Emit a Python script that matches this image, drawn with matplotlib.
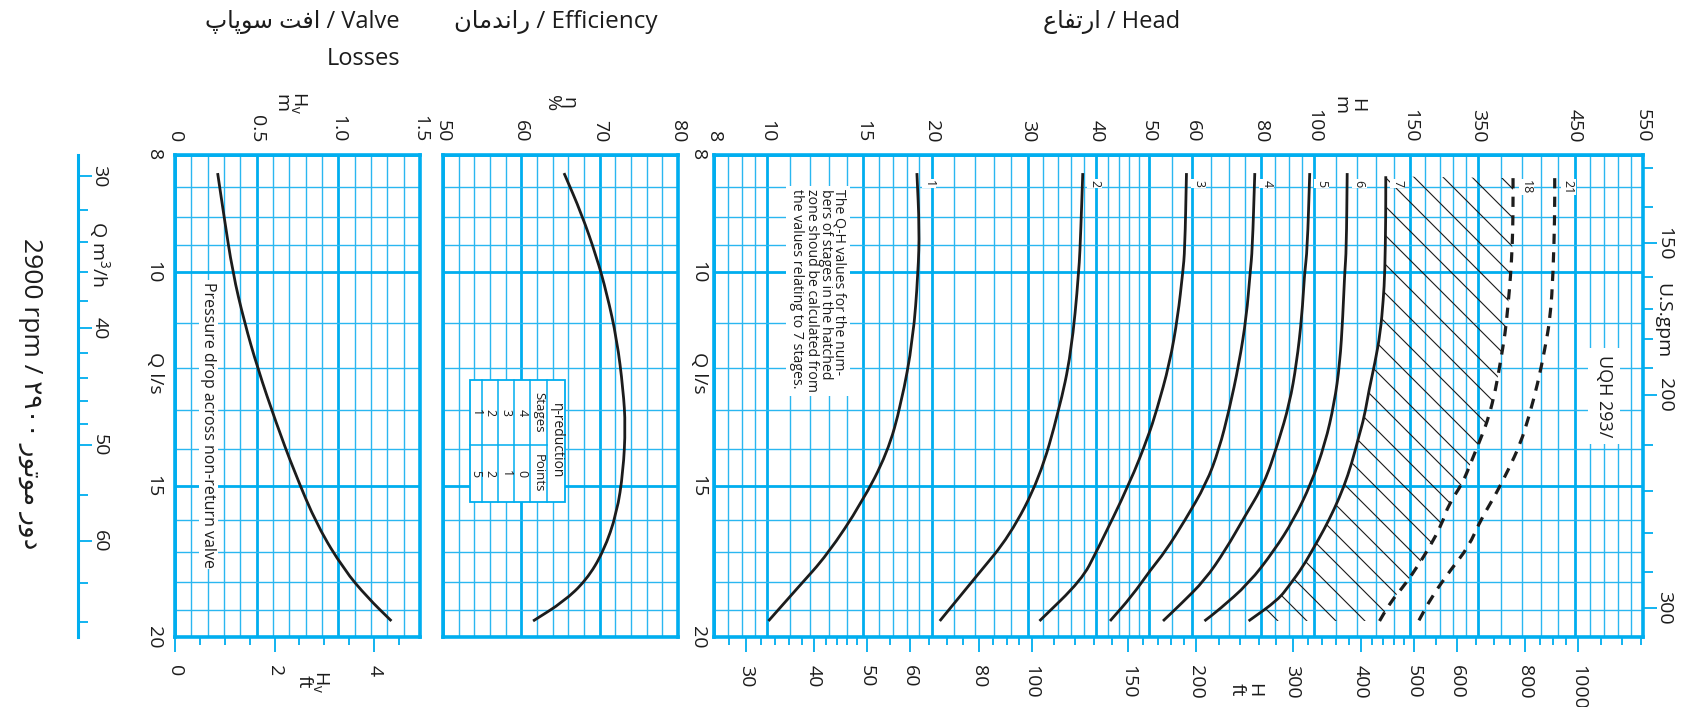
import matplotlib
matplotlib.use("Agg")
import matplotlib.pyplot as plt
import numpy as np
from matplotlib.lines import Line2D
from matplotlib.patches import PathPatch, Polygon, Rectangle
from matplotlib.path import Path
from matplotlib.ticker import FixedLocator, NullFormatter

plt.rcParams["font.family"] = ["Open Sans", "DejaVu Sans"]
plt.rcParams["mathtext.default"] = "regular"

FIG_W, FIG_H = 1684, 707
PANEL_TOP, PANEL_BOTTOM = 155, 637
BLUE = "#00aeef"
BLUE_THIN = "#2ab7f0"
INK = "#1c1c1c"
TICK_SIZE = 14

M_PER_FT = 0.3048
M3H_PER_LPS = 3.6
GPM_PER_LPS = 15.85

# Arabic/Persian words in visual order (presentation forms)
AR_HEAD = "\ufec9\ufe8e\ufed4\ufe97\ufead\ufe8d"
AR_EFF = "\ufee5\ufe8e\ufee3\ufeaa\ufee7\ufe8d\ufead"
AR_VALVE = "\ufb56\ufe8e\ufb58\ufeee\ufeb3 \ufe96\ufed3\ufe8d"
AR_RPM = "\u06f2\u06f9\u06f0\u06f0 \ufead\ufeee\ufe97\ufeee\ufee3 \ufead\ufeed\ufea9"

# flow axis, l/s
Q_TICKS = [8, 10, 15, 20]
Q_MINOR = [8.5, 9, 9.5, 11, 12, 13, 14, 16, 17, 18, 19]

# head axis, m (top labels as printed on the chart)
HEAD_TICKS = [8, 10, 15, 20, 30, 40, 50, 60, 80, 100, 150, 200, 300, 400]
HEAD_LABELS = ["8", "10", "15", "20", "30", "40", "50", "60", "80", "100", "150",
               "350", "450", "550"]
HEAD_MINOR = ([8.5, 9, 9.5] + list(range(11, 20)) + list(range(22, 50, 2))
              + list(range(55, 100, 5)) + list(range(110, 200, 10))
              + list(range(220, 400, 20)))
HEAD_MINOR = [v for v in HEAD_MINOR if v not in HEAD_TICKS]
HEAD_FT_TICKS = [30, 40, 50, 60, 80, 100, 150, 200, 300, 400, 500, 600, 800, 1000]
HEAD_FT_MINOR = ([28, 32, 34, 36, 38, 42, 44, 46, 48, 55, 65, 70, 75, 85, 90, 95]
                 + [110, 120, 130, 140, 160, 170, 180, 190]
                 + [220, 240, 260, 280, 320, 340, 360, 380, 420, 440, 460, 480]
                 + [550, 650, 700, 750, 850, 900, 950, 1100, 1200, 1300])

EFF_TICKS = [50, 60, 70, 80]
EFF_MINOR = [52, 54, 56, 58, 62, 64, 66, 68, 72, 74, 76, 78]

HV_TICKS = [0, 0.5, 1.0, 1.5]
HV_LABELS = ["0", "0.5", "1.0", "1.5"]
HV_MINOR = [0.1, 0.2, 0.3, 0.4, 0.6, 0.7, 0.8, 0.9, 1.1, 1.2, 1.3, 1.4]
HV_FT_TICKS = [0, 2, 4]
HV_FT_MINOR = [0.5, 1, 1.5, 2.5, 3, 3.5, 4.5]

M3H_TICKS = [30, 40, 50, 60]
M3H_MINOR = [32, 34, 36, 38, 42, 44, 46, 48, 55, 65, 70]
GPM_TICKS = [150, 200, 300]
GPM_MINOR = [130, 140, 160, 170, 180, 190, 220, 240, 260, 280]

# Q-H curves (Q in l/s, H in m)
q1 = [8.28, 9.2, 10.0, 11.36, 12.84, 14.1, 15.5, 17.1, 18.2, 19.4]
h1 = [18.8, 19.0, 18.9, 18.5, 17.6, 16.6, 14.9, 12.9, 11.4, 10.06]
q2 = [8.28, 9.2, 10.0, 11.67, 13.0, 14.8, 16.5, 17.8, 19.4]
h2 = [37.8, 37.5, 37.2, 36.0, 34.2, 31.5, 27.8, 24.2, 20.7]
q3 = [8.28, 9.58, 10.0, 10.88, 11.89, 13.0, 13.66, 14.92, 16.99, 17.95, 19.4]
h3 = [58.5, 58.1, 57.6, 56.4, 54.5, 51.6, 49.8, 46.1, 40.1, 37.6, 31.5]
q4 = [8.28, 9.58, 10.0, 10.88, 11.89, 13.0, 14.0, 14.94, 16.05, 17.0, 17.6, 18.5, 19.4]
h4 = [78.0, 77.2, 76.5, 75.3, 73.0, 70.0, 67.1, 63.6, 58.0, 53.5, 50.3, 46.5, 42.4]
q5 = [8.28, 9.58, 10.0, 10.88, 11.89, 12.83, 13.84, 14.94, 15.9, 16.96, 17.95, 18.76, 19.4]
h5 = [98.3, 97.3, 96.2, 95.1, 93.0, 90.3, 86.0, 81.2, 74.8, 68.9, 63.2, 57.3, 53.0]
q6 = [8.28, 9.58, 10.0, 10.88, 11.89, 12.83, 13.84, 14.94, 16.0, 16.96, 18.07, 19.0, 19.4]
h6 = [115.1, 114.7, 113.9, 113.0, 111.6, 109.0, 104.9, 98.9, 91.9, 84.7, 76.0, 67.0, 63.1]
q7 = [8.33, 8.99, 10.0, 10.54, 11.23, 11.89, 12.5, 13.16, 13.66, 14.38, 15.03, 15.67,
      16.32, 16.9, 17.5, 18.12, 18.64, 19.4]
h7 = [135.4, 135.4, 134.9, 134.0, 132.3, 129.3, 126.2, 123.7, 120.9, 117.3, 113.5, 109.1,
      104.3, 99.8, 95.5, 90.3, 86.0, 76.0]
q18 = [8.36, 8.97, 9.49, 10.08, 10.64, 11.23, 11.89, 12.5, 13.16, 13.66, 14.29, 14.94,
       15.53, 16.17, 16.85, 17.45, 18.07, 18.7, 19.4]
h18 = [231.4, 231.4, 230.7, 229.0, 226.6, 223.9, 219.2, 215.0, 209.0, 202.7, 194.6, 187.0,
       176.6, 171.1, 162.9, 155.2, 147.3, 138.3, 131.9]
q21 = [8.36, 8.99, 10.0, 10.88, 11.59, 12.35, 13.16, 13.84, 14.56, 15.32, 16.0, 16.85,
       17.6, 18.53, 19.4]
h21 = [275.8, 275.8, 274.0, 270.9, 264.4, 256.8, 247.4, 238.8, 226.8, 214.0, 202.0, 191.9,
       178.0, 164.3, 155.5]

# efficiency curve (%)
q_eff = [8.28, 8.95, 9.71, 10.4, 11.36, 12.5, 13.4, 14.6, 15.8, 17.0, 17.95, 18.7, 19.4]
eta = [65.45, 67.7, 69.6, 70.9, 72.2, 73.0, 73.3, 73.0, 72.2, 70.5, 68.3, 65.4, 61.5]

# pressure drop across non-return valve (m)
q_valve = [8.28, 8.95, 10.0, 10.98, 12.0, 13.3, 14.6, 16.2, 17.6, 18.55, 19.4]
hv = [0.261, 0.298, 0.353, 0.424, 0.506, 0.618, 0.730, 0.872, 1.035, 1.178, 1.325]

# efficiency reduction table
TABLE_STAGES = [4, 3, 2, 1]
TABLE_POINTS = [0, 1, 2, 5]


def panel_rect(x0, x1):
    return [x0 / FIG_W, 1 - PANEL_BOTTOM / FIG_H, (x1 - x0) / FIG_W,
            (PANEL_BOTTOM - PANEL_TOP) / FIG_H]


def fxy(x, y):
    return x / FIG_W, 1 - y / FIG_H


def smooth_curve(ax, xs, qs, xlog, **kw):
    # quadratic bezier through segment midpoints, midpoints taken in axis space
    u = np.log10(xs) if xlog else np.asarray(xs, float)
    v = np.log10(qs)
    mu, mv = (u[:-1] + u[1:]) / 2, (v[:-1] + v[1:]) / 2
    back_x = (lambda a: 10 ** a) if xlog else (lambda a: a)
    verts = [(xs[0], qs[0]), (back_x(mu[0]), 10 ** mv[0])]
    codes = [Path.MOVETO, Path.LINETO]
    for i in range(1, len(xs) - 1):
        verts += [(xs[i], qs[i]), (back_x(mu[i]), 10 ** mv[i])]
        codes += [Path.CURVE3, Path.CURVE3]
    verts.append((xs[-1], qs[-1]))
    codes.append(Path.LINETO)
    patch = PathPatch(Path(verts, codes), fill=False, **kw)
    ax.add_patch(patch)
    return patch


def setup_panel(ax, xscale, xlim, xticks, xlabels, xminor, show_q=True, ypad=6):
    ax.set_xscale(xscale)
    ax.set_yscale("log")
    ax.set_xlim(xlim)
    ax.set_ylim(20, 8)
    ax.set_xticks(xticks, xlabels)
    ax.xaxis.set_minor_locator(FixedLocator(xminor))
    ax.xaxis.set_minor_formatter(NullFormatter())
    ax.set_yticks(Q_TICKS, [str(v) for v in Q_TICKS])
    ax.yaxis.set_minor_locator(FixedLocator(Q_MINOR))
    ax.yaxis.set_minor_formatter(NullFormatter())
    ax.xaxis.tick_top()
    ax.tick_params(which="both", length=0)
    ax.tick_params(axis="x", labelrotation=-90, pad=9, labelsize=TICK_SIZE, labelcolor=INK)
    ax.tick_params(axis="y", labelrotation=-90, pad=ypad, labelsize=TICK_SIZE,
                   labelcolor=INK, labelleft=show_q)
    for lab in ax.get_yticklabels():
        lab.set_verticalalignment("center")
    ax.set_axisbelow(True)
    ax.grid(which="major", color=BLUE, lw=2.0)
    ax.grid(which="minor", color=BLUE_THIN, lw=1.0)
    for sp in ax.spines.values():
        sp.set_color(BLUE)
        sp.set_linewidth(2.6)


def ft_axis(ax, ticks, minor):
    sec = ax.secondary_xaxis("bottom", functions=(lambda m: m / M_PER_FT,
                                                  lambda f: f * M_PER_FT))
    sec.set_xticks(ticks, [str(v) for v in ticks])
    sec.xaxis.set_minor_locator(FixedLocator(minor))
    sec.xaxis.set_minor_formatter(NullFormatter())
    sec.tick_params(which="both", color=BLUE, direction="out", width=1.3,
                    labelrotation=-90, labelsize=TICK_SIZE, labelcolor=INK, pad=9)
    sec.tick_params(which="major", length=11)
    sec.tick_params(which="minor", length=6)
    sec.spines["bottom"].set_visible(False)
    return sec


def flow_axis(ax, location, factor, ticks, minor, align):
    sec = ax.secondary_yaxis(location, functions=(lambda q: q * factor,
                                                  lambda v: v / factor))
    if align is not None:
        sec.set_alignment(align)
    sec.set_yticks(ticks, [str(v) for v in ticks])
    sec.yaxis.set_minor_locator(FixedLocator(minor))
    sec.yaxis.set_minor_formatter(NullFormatter())
    sec.tick_params(which="both", color=BLUE, direction="out", width=1.3,
                    labelrotation=-90, labelsize=TICK_SIZE, labelcolor=INK, pad=-1)
    sec.tick_params(which="major", length=10)
    sec.tick_params(which="minor", length=7)
    for lab in sec.get_yticklabels():
        lab.set_verticalalignment("center")
    for sp in sec.spines.values():
        sp.set_color(BLUE)
        sp.set_linewidth(2.2)
    return sec


fig = plt.figure(figsize=(FIG_W / 100, FIG_H / 100), dpi=100)
fig.patch.set_facecolor("white")

ax_v = fig.add_axes(panel_rect(175, 420))
ax_e = fig.add_axes(panel_rect(443, 678))
ax_h = fig.add_axes(panel_rect(714, 1643))

setup_panel(ax_v, "linear", (0, 1.5), HV_TICKS, HV_LABELS, HV_MINOR, ypad=9)
setup_panel(ax_e, "linear", (50, 80), EFF_TICKS, [str(v) for v in EFF_TICKS], EFF_MINOR,
            show_q=False)
setup_panel(ax_h, "log", (8, 400), HEAD_TICKS, HEAD_LABELS, HEAD_MINOR, ypad=5)

ft_axis(ax_v, HV_FT_TICKS, HV_FT_MINOR)
ft_axis(ax_h, HEAD_FT_TICKS, HEAD_FT_MINOR)
flow_axis(ax_v, (78 - 175) / 245, M3H_PER_LPS, M3H_TICKS, M3H_MINOR, "right")
gpm = flow_axis(ax_h, "right", GPM_PER_LPS, GPM_TICKS, GPM_MINOR, None)
gpm.spines["right"].set_visible(False)

# --- head panel curves
solid = [(q1, h1, "1"), (q2, h2, "2"), (q3, h3, "3"), (q4, h4, "4"),
         (q5, h5, "5"), (q6, h6, "6"), (q7, h7, "7")]
for q, h, lab in solid:
    smooth_curve(ax_h, h, q, True, ec=INK, lw=2.0, zorder=3)
    ax_h.annotate(lab, xy=(h[0], 8.45), xytext=(4, 0), textcoords="offset points",
                  rotation=-90, ha="left", va="center", fontsize=9, color=INK,
                  bbox=dict(fc="white", ec="none", pad=0.6), zorder=4)
for q, h, lab in [(q18, h18, "18"), (q21, h21, "21")]:
    smooth_curve(ax_h, h, q, True, ec=INK, lw=2.3, ls=(0, (3.2, 2.6)),
                 capstyle="butt", zorder=3)
    ax_h.annotate(lab, xy=(h[0], 8.5), xytext=(5, 0), textcoords="offset points",
                  rotation=-90, ha="left", va="center", fontsize=9, color=INK,
                  bbox=dict(fc="white", ec="none", pad=0.6), zorder=4)

# hatched zone between 7 stages and 18 stages
zone = Polygon(np.column_stack([h7 + h18[::-1], q7 + q18[::-1]]), closed=True,
               transform=ax_h.transData)
bb = ax_h.get_position()
slope = (bb.width * FIG_W) / (bb.height * FIG_H)
step = 29 / (bb.height * FIG_H)
phase = 0.813 + 0.858 * slope
for c in np.arange(phase - 60 * step, slope + 1.05, step):
    if c < 0:
        continue
    ln = Line2D([0, 1], [c, c - slope], transform=ax_h.transAxes, color=INK,
                lw=0.8, zorder=2.5)
    ln.set_clip_path(zone)
    ax_h.add_line(ln)

ax_h.text(0.143, 0.929,
          "The Q-H values for the num-\nbers of stages in the hatched\n"
          "zone shoud be calculated from\nthe values relating to 7 stages.",
          transform=ax_h.transAxes, rotation=-90, rotation_mode="anchor",
          ha="left", va="top", fontsize=10.2, linespacing=0.92, color=INK,
          bbox=dict(fc="white", ec="none", pad=2.5), zorder=4)
ax_h.text(0.958, 0.5, "UQH 293/", transform=ax_h.transAxes, rotation=-90,
          ha="center", va="center", fontsize=13, color=INK,
          bbox=dict(fc="white", ec="none", pad=5), zorder=4)
ax_h.text(0.683, 1.104, "H\nm", transform=ax_h.transAxes, rotation=-90,
          ha="center", va="center", fontsize=TICK_SIZE, color=INK, linespacing=0.9)
ax_h.text(0.572, -0.11, "H\nft", transform=ax_h.transAxes, rotation=-90,
          ha="center", va="center", fontsize=TICK_SIZE, color=INK, linespacing=0.9)

# --- efficiency panel
smooth_curve(ax_e, eta, q_eff, False, ec=INK, lw=2.0, zorder=3)
ax_e.text(0.498, 1.108, "\u03b7\n%", transform=ax_e.transAxes, rotation=-90,
          ha="center", va="center", fontsize=TICK_SIZE, color=INK, linespacing=0.9)

tbl_x = [0.115, 0.167, 0.235, 0.303, 0.370, 0.444, 0.519]
tbl_top, tbl_mid, tbl_bot = 0.533, 0.398, 0.280
ax_e.add_patch(Rectangle((tbl_x[0], tbl_bot), tbl_x[-1] - tbl_x[0], tbl_top - tbl_bot,
                         transform=ax_e.transAxes, fc="white", ec=BLUE, lw=1.3,
                         zorder=4))
for x in tbl_x[1:-1]:
    ax_e.add_line(Line2D([x, x], [tbl_bot, tbl_top], transform=ax_e.transAxes,
                         color=BLUE, lw=1.1, zorder=4.5))
ax_e.add_line(Line2D([tbl_x[0], tbl_x[-2]], [tbl_mid, tbl_mid], transform=ax_e.transAxes,
                     color=BLUE, lw=1.1, zorder=4.5))
y_st = (tbl_top + tbl_mid) / 2
y_pt = (tbl_mid + tbl_bot) / 2
ax_e.text((tbl_x[5] + tbl_x[6]) / 2, (tbl_top + tbl_bot) / 2, "\u03b7-reduction",
          transform=ax_e.transAxes, rotation=-90, ha="center", va="center",
          fontsize=10, color=INK, zorder=5)
ax_e.text((tbl_x[4] + tbl_x[5]) / 2, y_st, "Stages", transform=ax_e.transAxes,
          rotation=-90, ha="center", va="center", fontsize=9.5, color=INK, zorder=5)
ax_e.text((tbl_x[4] + tbl_x[5]) / 2, y_pt, "Points", transform=ax_e.transAxes,
          rotation=-90, ha="center", va="center", fontsize=9.5, color=INK, zorder=5)
for k, (s, p) in enumerate(zip(TABLE_STAGES, TABLE_POINTS)):
    xc = (tbl_x[3 - k] + tbl_x[4 - k]) / 2
    ax_e.text(xc, y_st, str(s), transform=ax_e.transAxes, rotation=-90,
              ha="center", va="center", fontsize=9, color=INK, zorder=5)
    ax_e.text(xc, y_pt, str(p), transform=ax_e.transAxes, rotation=-90,
              ha="center", va="center", fontsize=9, color=INK, zorder=5)

# --- valve losses panel
smooth_curve(ax_v, hv, q_valve, False, ec=INK, lw=2.0, zorder=3)
ax_v.text(0.135, 0.737, "Pressure drop across non-return valve", transform=ax_v.transAxes,
          rotation=-90, rotation_mode="anchor", ha="left", va="center", fontsize=11.5,
          color=INK, bbox=dict(fc="white", ec="none", pad=1.0), zorder=4)
ax_v.text(0.473, 1.108, "$H_v$\nm", transform=ax_v.transAxes, rotation=-90,
          ha="center", va="center", fontsize=TICK_SIZE, color=INK, linespacing=0.9)
ax_v.text(0.563, -0.093, "$H_v$\nft", transform=ax_v.transAxes, rotation=-90,
          ha="center", va="center", fontsize=TICK_SIZE, color=INK, linespacing=0.9)

# --- axis names and titles
fig.text(*fxy(699, 373), "Q l/s", rotation=-90, ha="center", va="center",
         fontsize=TICK_SIZE, color=INK)
fig.text(*fxy(155, 373), "Q l/s", rotation=-90, ha="center", va="center",
         fontsize=TICK_SIZE, color=INK)
fig.text(*fxy(99, 254), "Q m$^3$/h", rotation=-90, ha="center", va="center",
         fontsize=TICK_SIZE, color=INK)
fig.text(*fxy(1662, 321), "U.S.gpm", rotation=-90, ha="center", va="center",
         fontsize=TICK_SIZE, color=INK)
fig.text(*fxy(30, 238), "2900 rpm / " + AR_RPM, rotation=-90, rotation_mode="anchor",
         ha="left", va="center", fontsize=19, color=INK)

fig.text(*fxy(1112, 22), AR_HEAD + " / Head", ha="center", va="center", fontsize=17,
         color=INK)
fig.text(*fxy(556, 22), AR_EFF + " / Efficiency", ha="center", va="center", fontsize=17.5,
         color=INK)
fig.text(*fxy(400, 22), AR_VALVE + " / Valve", ha="right", va="center", fontsize=17,
         color=INK)
fig.text(*fxy(400, 59), "Losses", ha="right", va="center", fontsize=17, color=INK)

fig.savefig("out.png", dpi=100, facecolor="white")
